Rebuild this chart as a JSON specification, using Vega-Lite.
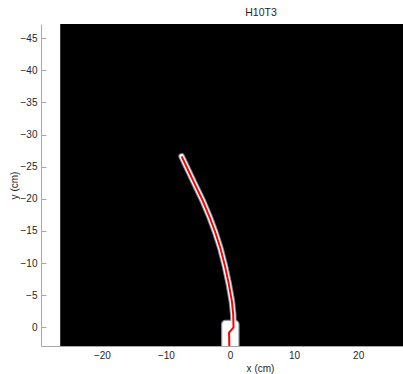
{
  "$schema": "https://vega.github.io/schema/vega-lite/v6.json",
  "width": 362,
  "height": 322,
  "autosize": {"type": "none"},
  "padding": {"left": 41, "top": 24, "right": 0, "bottom": 28},
  "background": "white",
  "view": {"stroke": null},
  "config": {
    "font": "Liberation Sans",
    "axis": {
      "domainColor": "#a8a8a8",
      "tickColor": "#a8a8a8",
      "labelColor": "#262626",
      "titleColor": "#262626",
      "labelFontSize": 10,
      "titleFontSize": 10,
      "titleFontWeight": "normal",
      "grid": false
    }
  },
  "title": {
    "text": "H10T3",
    "fontSize": 10.5,
    "fontWeight": "normal",
    "color": "#262626",
    "anchor": "middle",
    "dx": 39,
    "offset": 6
  },
  "datasets": {
    "frame": [{"x0": -26.5, "x1": 30, "y0": -47.2, "y1": 2.9}],
    "base": [{"x0": -1.3, "x1": 1.4, "y0": -1.1, "y1": 4.0}],
    "centerline": [
      {"i": 0, "x": -7.55, "y": -26.6},
      {"i": 1, "x": -6.6, "y": -24.6},
      {"i": 2, "x": -5.65, "y": -22.6},
      {"i": 3, "x": -4.25, "y": -19.7},
      {"i": 4, "x": -3.2, "y": -17.2},
      {"i": 5, "x": -2.3, "y": -14.8},
      {"i": 6, "x": -1.5, "y": -12.3},
      {"i": 7, "x": -0.8, "y": -9.6},
      {"i": 8, "x": -0.2, "y": -6.8},
      {"i": 9, "x": 0.3, "y": -4.0},
      {"i": 10, "x": 0.5, "y": -2.0},
      {"i": 11, "x": 0.55, "y": 0.0},
      {"i": 12, "x": -0.15, "y": 0.8},
      {"i": 13, "x": -0.1, "y": 3.2}
    ]
  },
  "encoding": {
    "x": {
      "type": "quantitative",
      "scale": {"domain": [-29.5, 27.0], "nice": false, "zero": false},
      "axis": {
        "values": [-20, -10, 0, 10, 20],
        "title": "x (cm)",
        "titleX": 219,
        "titleY": 17,
        "ticks": false,
        "labelPadding": 4
      }
    },
    "y": {
      "type": "quantitative",
      "scale": {"domain": [-47.2, 2.9], "nice": false, "zero": false, "reverse": true},
      "axis": {
        "values": [-45, -40, -35, -30, -25, -20, -15, -10, -5, 0],
        "title": "y (cm)",
        "tickSize": -5,
        "labelPadding": 9,
        "titlePadding": 1
      }
    }
  },
  "layer": [
    {
      "data": {"name": "frame"},
      "mark": {"type": "rect", "color": "black", "clip": true},
      "encoding": {
        "x": {"field": "x0"},
        "x2": {"field": "x1"},
        "y": {"field": "y0"},
        "y2": {"field": "y1"}
      }
    },
    {
      "data": {"name": "centerline"},
      "mark": {"type": "line", "color": "#7e8796", "strokeWidth": 6.5, "strokeCap": "round", "clip": true},
      "encoding": {"x": {"field": "x"}, "y": {"field": "y"}, "order": {"field": "i"}}
    },
    {
      "data": {"name": "base"},
      "mark": {"type": "rect", "fill": "white", "stroke": "#8a93a0", "strokeWidth": 1.2, "cornerRadius": 4, "clip": true},
      "encoding": {
        "x": {"field": "x0"},
        "x2": {"field": "x1"},
        "y": {"field": "y0"},
        "y2": {"field": "y1"}
      }
    },
    {
      "data": {"name": "centerline"},
      "mark": {"type": "line", "color": "white", "strokeWidth": 4.5, "strokeCap": "round", "clip": true},
      "encoding": {"x": {"field": "x"}, "y": {"field": "y"}, "order": {"field": "i"}}
    },
    {
      "data": {"name": "centerline"},
      "mark": {"type": "line", "color": "#ff0000", "strokeWidth": 2, "clip": true},
      "encoding": {"x": {"field": "x"}, "y": {"field": "y"}, "order": {"field": "i"}}
    }
  ]
}
